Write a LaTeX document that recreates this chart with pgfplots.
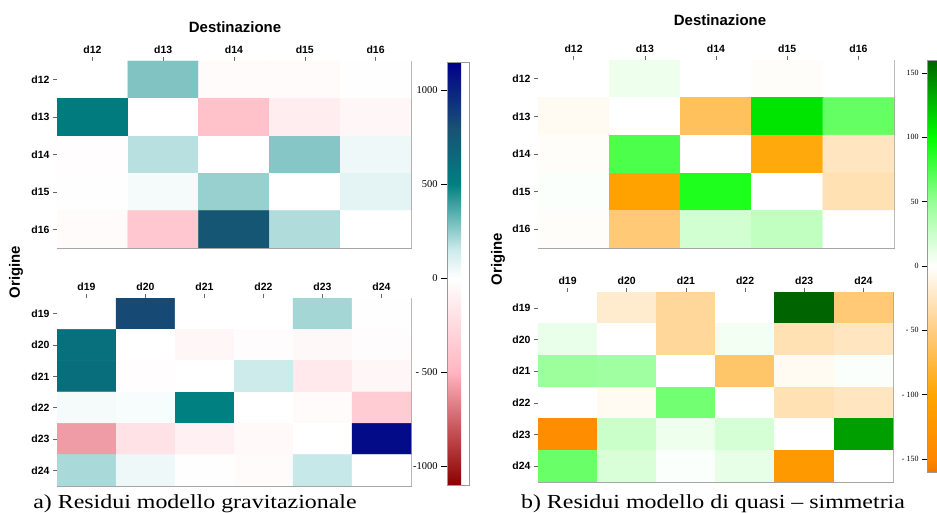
\documentclass[border=0pt]{standalone}
\usepackage{fontspec}
\setmainfont{Liberation Serif}
\setsansfont{Liberation Sans}
\usepackage{pgfplots}
\pgfplotsset{compat=1.18}

\pgfplotsset{
  colormap={gravi}{rgb255(0pt)=(139,0,0); rgb255(30pt)=(200,85,90); rgb255(60pt)=(255,182,193); rgb255(110pt)=(255,255,255); rgb255(125pt)=(205,235,235); rgb255(160pt)=(0,128,128); rgb255(190pt)=(25,80,115); rgb255(225pt)=(0,0,139)},
  colormap={quasi}{rgb255(0pt)=(240,120,0); rgb255(10pt)=(255,135,0); rgb255(60pt)=(255,165,0); rgb255(110pt)=(255,205,130); rgb255(160pt)=(255,255,255); rgb255(210pt)=(150,255,150); rgb255(260pt)=(0,255,0); rgb255(320pt)=(0,100,0)},
  hm/.style={
    scale only axis, y dir=reverse, enlargelimits=false,
    tick align=outside, major tick length=4bp,
    xtick pos=upper, xticklabel pos=upper, ytick pos=left,
    axis line style={draw=black!35, line width=0.8pt},
    tick style={black!60, line width=0.6pt},
    ticklabel style={font=\sffamily\bfseries\fontsize{10.5}{10.5}\selectfont},
  },
  cb/.style={
    scale only axis, yticklabel pos=left, ytick pos=left,
    tick align=outside, major tick length=6bp,
    axis line style={draw=black!40},
    tick style={black, line width=0.6pt},
    /pgf/number format/assume math mode=true,
  },
}

\begin{document}
\begin{tikzpicture}
\path[use as bounding box] (0,0) rectangle (937bp,513bp);

% ---------- a) top
\begin{axis}[hm, at={(57bp,452bp)}, anchor=north west, width=354bp, height=187bp,
  xmin=-0.5, xmax=4.5, ymin=-0.5, ymax=4.5,
  xtick={0,...,4}, ytick={0,...,4},
  xticklabels={d12,d13,d14,d15,d16}, yticklabels={d12,d13,d14,d15,d16},
  colormap name=gravi, point meta min=-1100, point meta max=1150,
  colorbar,
  colorbar style={cb, at={(1.1017,0.995)}, anchor=north west, width=22bp, height=423bp,
    ytick={-1000,-500,0,500,1000}, yticklabels={-1000,- 500,0,500,1000},
    yticklabel style={font=\fontsize{10.5}{10.5}\selectfont}},
]
\addplot[matrix plot*, mesh/cols=5, point meta=explicit] table[meta=z] {
x y z
0 0 0
1 0 280
2 0 -30
3 0 -30
4 0 -10
0 1 530
1 1 0
2 1 -420
3 1 -120
4 1 -60
0 2 -15
1 2 185
2 2 0
3 2 270
4 2 50
0 3 -10
1 3 30
2 3 240
3 3 0
4 3 80
0 4 -30
1 4 -380
2 4 760
3 4 200
4 4 0
};
\end{axis}

% ---------- a) bottom
\begin{axis}[hm, at={(57bp,215bp)}, anchor=north west, width=354bp, height=188bp,
  xmin=-0.5, xmax=5.5, ymin=-0.5, ymax=5.5,
  xtick={0,...,5}, ytick={0,...,5},
  xticklabels={d19,d20,d21,d22,d23,d24}, yticklabels={d19,d20,d21,d22,d23,d24},
  colormap name=gravi, point meta min=-1100, point meta max=1150,
]
\addplot[matrix plot*, mesh/cols=6, point meta=explicit] table[meta=z] {
x y z
0 0 0
1 0 830
2 0 0
3 0 0
4 0 220
5 0 -10
0 1 600
1 1 0
2 1 -60
3 1 -20
4 1 -50
5 1 -20
0 2 610
1 2 -15
2 2 0
3 2 150
4 2 -150
5 2 -60
0 3 30
1 3 25
2 3 500
3 3 0
4 3 -30
5 3 -350
0 4 -580
1 4 -200
2 4 -100
3 4 -40
4 4 0
5 4 1100
0 5 210
1 5 50
2 5 -10
3 5 -30
4 5 160
5 5 0
};
\end{axis}

% ---------- b) top
\begin{axis}[hm, at={(538bp,453bp)}, anchor=north west, width=356bp, height=188bp,
  xmin=-0.5, xmax=4.5, ymin=-0.5, ymax=4.5,
  xtick={0,...,4}, ytick={0,...,4},
  xticklabels={d12,d13,d14,d15,d16}, yticklabels={d12,d13,d14,d15,d16},
  colormap name=quasi, point meta min=-160, point meta max=160,
  colorbar,
  colorbar style={cb, at={(1.0927,1)}, anchor=north west, width=12bp, height=412bp,
    ytick={-150,-100,-50,0,50,100,150}, yticklabels={- 150,- 100,- 50,0,50,100,150},
    yticklabel style={font=\fontsize{8}{8}\selectfont}, major tick length=5bp},
]
\addplot[matrix plot*, mesh/cols=5, point meta=explicit] table[meta=z] {
x y z
0 0 0
1 0 8
2 0 0
3 0 -2
4 0 0
0 1 -5
1 1 0
2 1 -65
3 1 110
4 1 67
0 2 -2
1 2 75
2 2 0
3 2 -95
4 2 -25
0 3 2
1 3 -105
2 3 90
3 3 0
4 3 -30
0 4 -2
1 4 -55
2 4 22
3 4 30
4 4 0
};
\end{axis}

% ---------- b) bottom
\begin{axis}[hm, at={(538bp,221bp)}, anchor=north west, width=355bp, height=190bp,
  xmin=-0.5, xmax=5.5, ymin=-0.5, ymax=5.5,
  xtick={0,...,5}, ytick={0,...,5},
  xticklabels={d19,d20,d21,d22,d23,d24}, yticklabels={d19,d20,d21,d22,d23,d24},
  colormap name=quasi, point meta min=-160, point meta max=160,
]
\addplot[matrix plot*, mesh/cols=6, point meta=explicit] table[meta=z] {
x y z
0 0 0
1 0 -20
2 0 -40
3 0 0
4 0 160
5 0 -55
0 1 10
1 1 0
2 1 -40
3 1 5
4 1 -30
5 1 -25
0 2 47
1 2 45
2 2 0
3 2 -60
4 2 -5
5 2 2
0 3 0
1 3 -5
2 3 62
3 3 0
4 3 -30
5 3 -25
0 4 -140
1 4 25
2 4 8
3 4 20
4 4 0
5 4 137
0 5 65
1 5 18
2 5 2
3 5 12
4 5 -120
5 5 0
};
\end{axis}

% ---------- titles and captions
\node[font=\sffamily\bfseries\fontsize{15}{15}\selectfont] at (235bp,486bp) {Destinazione};
\node[font=\sffamily\bfseries\fontsize{15}{15}\selectfont] at (720bp,493bp) {Destinazione};
\node[font=\sffamily\bfseries\fontsize{15}{15}\selectfont, rotate=90] at (16bp,241bp) {Origine};
\node[font=\sffamily\bfseries\fontsize{15}{15}\selectfont, rotate=90] at (498bp,254bp) {Origine};
\node[anchor=base, font=\fontsize{20}{20}\selectfont, inner sep=0pt] at (195bp,5bp) {\scalebox{1.2}[1]{a) Residui modello gravitazionale}};
\node[anchor=base, font=\fontsize{20}{20}\selectfont, inner sep=0pt] at (713bp,5bp) {\scalebox{1.2}[1]{b) Residui modello di quasi -- simmetria}};
\end{tikzpicture}
\end{document}
